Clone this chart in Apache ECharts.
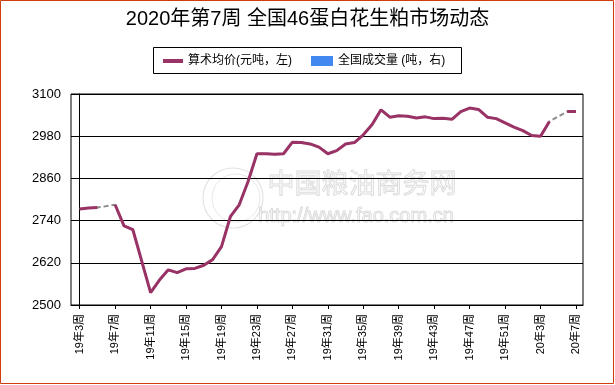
<!DOCTYPE html>
<html>
<head>
<meta charset="utf-8">
<script src="https://cdn.jsdelivr.net/npm/echarts@6/dist/echarts.min.js"></script>
<style>
html,body{margin:0;padding:0;background:#fff;}
#c{width:615px;height:385px;}
</style>
</head>
<body>
<div id="c"></div>
<script>
var titleText = '2020年第7周 全国46蛋白花生粕市场动态';
var seriesPrice = '算术均价(元吨，左)';
var seriesVolume = '全国成交量 (吨，右)';

var categories = [
  '19年3周','19年4周','19年5周','19年6周','19年7周','19年8周','19年9周','19年10周',
  '19年11周','19年12周','19年13周','19年14周','19年15周','19年16周','19年17周','19年18周',
  '19年19周','19年20周','19年21周','19年22周','19年23周','19年24周','19年25周','19年26周',
  '19年27周','19年28周','19年29周','19年30周','19年31周','19年32周','19年33周','19年34周',
  '19年35周','19年36周','19年37周','19年38周','19年39周','19年40周','19年41周','19年42周',
  '19年43周','19年44周','19年45周','19年46周','19年47周','19年48周','19年49周','19年50周',
  '19年51周','19年52周','20年1周','20年2周','20年3周','20年4周','20年5周','20年6周','20年7周'
];

var priceValues = [
  2773, 2776, 2777, null, 2785, 2725, 2714, 2625,
  2535, 2571, 2600, 2592, 2603, 2604, 2613, 2629,
  2666, 2751, 2785, 2851, 2930, 2930, 2929, 2930,
  2963, 2962, 2958, 2949, 2930, 2939, 2958, 2962,
  2984, 3013, 3055, 3034, 3038, 3037, 3032, 3035,
  3030, 3031, 3028, 3050, 3060, 3056, 3034, 3030,
  3018, 3006, 2996, 2982, 2980, 3022, null, 3050, 3050
];

var volumeValues = [];

var labelIndices = [0, 4, 8, 12, 16, 20, 24, 28, 32, 36, 40, 44, 48, 52, 56];
var yTicks = [2500, 2620, 2740, 2860, 2980, 3100];

var pricePairs = priceValues.map(function (v, i) { return [i, v == null ? '-' : v]; });
var bridgePairs = priceValues.map(function (v, i) { return [i, v]; }).filter(function (p) { return p[1] != null; });

var chart = echarts.init(document.getElementById('c'), null, {renderer: 'canvas'});
var fontLatin = '"Liberation Sans", Arial, "Noto Sans CJK SC", sans-serif';

chart.setOption({
  animation: false,
  backgroundColor: '#ffffff',
  textStyle: {fontFamily: fontLatin},
  title: {
    text: titleText,
    left: 'center',
    top: 9,
    padding: 0,
    textStyle: {fontSize: 20, fontWeight: 'normal', color: '#000', fontFamily: fontLatin}
  },
  legend: [
    {
      data: [{name: seriesPrice, icon: 'rect'}],
      left: 163, top: 55, padding: 0,
      itemWidth: 20, itemHeight: 4, itemGap: 5,
      textStyle: {fontSize: 12, color: '#000', fontFamily: fontLatin},
      selectedMode: false
    },
    {
      data: [{name: seriesVolume, icon: 'rect'}],
      left: 311, top: 55, padding: 0,
      itemWidth: 22, itemHeight: 10,
      textStyle: {fontSize: 12, color: '#000', fontFamily: fontLatin},
      selectedMode: false
    }
  ],
  graphic: [
    {type: 'rect', z: 100, silent: true, shape: {x: 0.5, y: 0.5, width: 613, height: 383},
     style: {fill: 'none', stroke: '#D03C0A', lineWidth: 1}},
    {type: 'rect', z: 100, silent: true, shape: {x: 153.5, y: 47.5, width: 308, height: 26},
     style: {fill: 'none', stroke: '#000', lineWidth: 1}},
    {type: 'circle', z: 0, silent: true, shape: {cx: 233, cy: 198, r: 30},
     style: {fill: 'none', stroke: '#e4e4e4', lineWidth: 1.2}},
    {type: 'circle', z: 0, silent: true, shape: {cx: 236, cy: 198, r: 24},
     style: {fill: 'none', stroke: '#e8e8e8', lineWidth: 1}},
    {type: 'text', z: 0, silent: true, x: 362, y: 183,
     style: {text: '中国粮油商务网', fontSize: 27, fontFamily: '"Noto Sans CJK SC"', fill: 'rgba(0,0,0,0)',
             stroke: '#dcdcdc', lineWidth: 1, align: 'center', verticalAlign: 'middle'}},
    {type: 'text', z: 0, silent: true, x: 356, y: 216,
     style: {text: 'http://www.fao.com.cn', fontSize: 20, fontFamily: '"Liberation Sans"', fill: 'rgba(0,0,0,0)',
             stroke: '#dcdcdc', lineWidth: 1, align: 'center', verticalAlign: 'middle'}}
  ],
  grid: {
    left: 71, right: 32, top: 94, bottom: 80,
    show: true, borderColor: '#000', borderWidth: 1, backgroundColor: 'transparent'
  },
  xAxis: {
    type: 'value',
    min: -0.98,
    max: 56.79,
    axisLine: {show: true, onZero: false, lineStyle: {color: '#000', width: 1}},
    axisTick: {show: true, length: 4, customValues: labelIndices, lineStyle: {color: '#000'}},
    axisLabel: {
      customValues: labelIndices,
      rotate: 90,
      margin: 9,
      fontSize: 11,
      color: '#000',
      fontFamily: fontLatin,
      formatter: function (v) { return categories[Math.round(v)] || ''; }
    },
    splitLine: {show: false}
  },
  yAxis: [
    {
      type: 'value',
      min: 2500,
      max: 3100,
      interval: 120,
      axisLine: {show: true, lineStyle: {color: '#000', width: 1}},
      axisTick: {show: true, length: 8, lineStyle: {color: '#000'}},
      axisLabel: {fontSize: 13, color: '#000', margin: 10, fontFamily: fontLatin,
                  customValues: yTicks,
                  formatter: function (v) { return String(Math.round(v)); }},
      splitLine: {show: true, lineStyle: {color: '#000', width: 1}}
    },
    {
      type: 'value', show: false, min: 0, max: 1
    }
  ],
  series: [
    {
      name: 'bridge',
      type: 'line',
      data: bridgePairs,
      showSymbol: false,
      silent: true,
      z: 1,
      lineStyle: {color: '#8c8c8c', width: 2, type: [5, 3]},
      itemStyle: {color: '#8c8c8c'}
    },
    {
      name: seriesPrice,
      type: 'line',
      data: pricePairs,
      connectNulls: false,
      showSymbol: false,
      z: 3,
      color: '#993366',
      lineStyle: {color: '#993366', width: 3},
      itemStyle: {color: '#993366'}
    },
    {
      name: seriesVolume,
      type: 'bar',
      yAxisIndex: 1,
      data: volumeValues,
      color: '#4189F0',
      itemStyle: {color: '#4189F0'}
    }
  ]
});
</script>
</body>
</html>
